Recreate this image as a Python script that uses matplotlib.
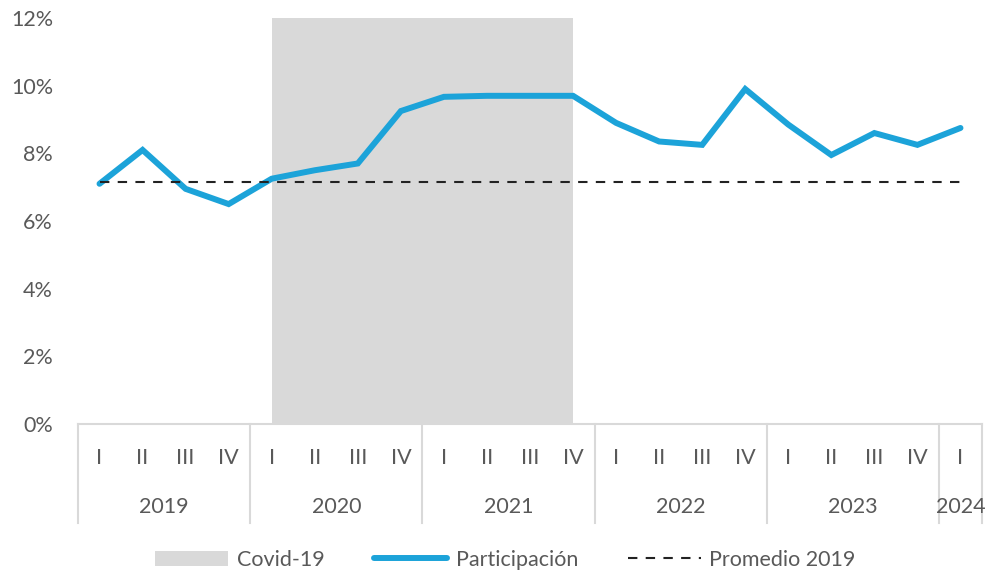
import matplotlib.pyplot as plt
from matplotlib.patches import Patch
from matplotlib.lines import Line2D
import matplotlib.transforms as mtransforms
from matplotlib.ticker import FuncFormatter

plt.rcParams['font.family'] = ['Lato', 'DejaVu Sans']

years = ['2019', '2020', '2021', '2022', '2023', '2024']
quarters_per_year = [4, 4, 4, 4, 4, 1]
quarter_names = ['I', 'II', 'III', 'IV']

participacion = [7.1, 8.1, 6.95, 6.5,
                 7.25, 7.5, 7.7, 9.25,
                 9.67, 9.7, 9.7, 9.7,
                 8.9, 8.35, 8.25, 9.9,
                 8.85, 7.95, 8.6, 8.25,
                 8.75]
promedio_2019 = sum(participacion[:4]) / 4
covid_start, covid_end = 4, 11   # 2020 I .. 2021 IV

labels = [quarter_names[q] for n in quarters_per_year for q in range(n)]
x = list(range(len(labels)))

gray_text = '#595959'
axis_gray = '#d9d9d9'
blue = '#1ca3d9'
fs = 15.5
dash = (0, (4.5, 4))

fig = plt.figure(figsize=(9.87, 5.73), dpi=100)
ax = fig.add_axes([78 / 987, 149 / 573, 904 / 987, 406 / 573])

ax.axvspan(covid_start, covid_end, ymin=0, ymax=1, color='#d9d9d9', lw=0, zorder=1)
ax.plot(x, participacion, color=blue, lw=4.3, solid_joinstyle='miter',
        solid_capstyle='round', zorder=3)
ax.plot([x[0], x[-1]], [promedio_2019, promedio_2019], color='#222222',
        lw=1.5, ls=dash, zorder=4)

ax.set_xlim(-0.5, len(x) - 0.5)
ax.set_ylim(0, 12)
ax.set_yticks(range(0, 13, 2))
ax.yaxis.set_major_formatter(FuncFormatter(lambda v, _: f'{v:.0f}%'))
ax.tick_params(axis='y', length=0, labelsize=fs, labelcolor=gray_text, pad=18)
ax.set_xticks([])
for side in ['top', 'right', 'left']:
    ax.spines[side].set_visible(False)
ax.spines['bottom'].set_color(axis_gray)
ax.spines['bottom'].set_linewidth(1.5)

# two-level category axis: quarters then years, with separators
trans = mtransforms.blended_transform_factory(ax.transData, ax.transAxes)
sep_bottom = -99 / 406
for xi, lab in zip(x, labels):
    ax.text(xi, -34 / 406, lab, transform=trans, ha='center', va='center',
            fontsize=fs, color=gray_text)
pos = 0
bounds = [-0.5]
for yr, n in zip(years, quarters_per_year):
    centre = pos + (n - 1) / 2
    ax.text(centre, -83 / 406, yr, transform=trans, ha='center', va='center',
            fontsize=fs, color=gray_text)
    pos += n
    bounds.append(pos - 0.5)
for b in bounds:
    ax.plot([b, b], [0, sep_bottom], transform=trans, color=axis_gray,
            lw=1.5, clip_on=False)

handles = [Patch(facecolor='#d9d9d9', edgecolor='none', label='Covid-19'),
           Line2D([0], [0], color=blue, lw=4.3, solid_capstyle='round', label='Participación'),
           Line2D([0], [0], color='#222222', lw=1.5, ls=dash, label='Promedio 2019')]
leg = fig.legend(handles=handles, loc='center', bbox_to_anchor=(0.512, 13 / 573),
                 ncol=3, frameon=False, fontsize=fs, handlelength=3.4,
                 columnspacing=2.3, handletextpad=0.4)
for t in leg.get_texts():
    t.set_color(gray_text)

fig.savefig('out.png', dpi=100)
